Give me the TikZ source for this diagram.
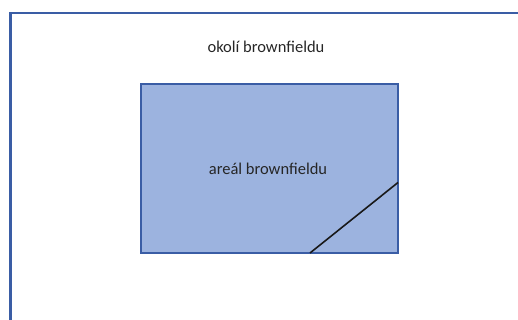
\documentclass[tikz,border=0pt]{standalone}
\usepackage{fontspec}
\setmainfont{Carlito}
\definecolor{edgeblue}{HTML}{3A5DA5}
\definecolor{areafill}{HTML}{9CB3DF}
\tikzset{
  zone/.style={draw=edgeblue, line width=2.6pt},
  label/.style={font=\fontsize{16.5}{19}\selectfont, text=black!85, inner sep=0pt},
}
\begin{document}
\begin{tikzpicture}[x=1pt,y=-1pt]
  \useasboundingbox (0,0) rectangle (518,320);
  % surroundings, running off the page to the right and bottom
  \draw[zone] (530,13) -- (10.5,13) -- (10.5,335);
  % site area
  \draw[zone, fill=areafill] (141,84) rectangle (398,253);
  \coordinate (cutA) at (310,253);
  \coordinate (cutB) at (398,182.5);
  \draw[line width=1.6pt, black!90] (cutA) -- (cutB);
  \node[label] (okoli) at (266,47) {okolí brownfieldu};
  \node[label] (areal) at (268,169) {areál brownfieldu};
\end{tikzpicture}
\end{document}
